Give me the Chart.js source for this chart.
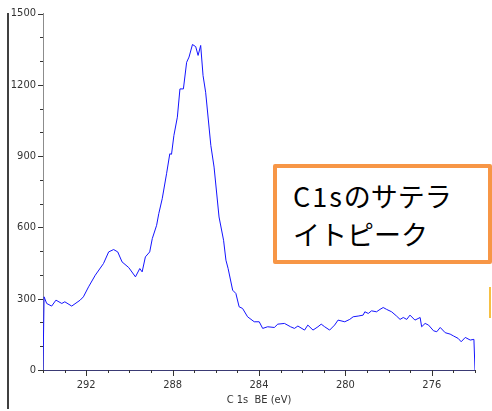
<!DOCTYPE html>
<html>
<head>
<meta charset="utf-8">
<script src="https://cdn.jsdelivr.net/npm/chart.js@4.4.1/dist/chart.umd.min.js"></script>
<style>
  html, body { margin: 0; padding: 0; background: #fff; }
  #wrap { position: relative; width: 492px; height: 411px; overflow: hidden; }
  #cropChart { position: absolute; left: 0; top: 0; }
  #leftRule { position: absolute; left: 7px; top: 13px; width: 2px; height: 396px; background: #404040; }
  #note {
    position: absolute; left: 273px; top: 164px; width: 211px; height: 92px;
    border: 4px solid #f79646; border-radius: 2px; background: #fff;
    font-family: "Noto Sans CJK JP", sans-serif; font-size: 27px; line-height: 38px; color: #000;
  }
  #note div { position: absolute; left: 16px; white-space: nowrap; }
  #note span { letter-spacing: 2px; }
  #sideMark { position: absolute; left: 489px; top: 287px; width: 2px; height: 31px; background: #f6c043; }
</style>
</head>
<body>
<div id="wrap">
  <canvas id="cropChart" width="492" height="411"></canvas>
  <div id="leftRule"></div>
  <div id="note"><div style="top:9px"><span>C1s</span>のサテラ</div><div style="top:47px">イトピーク</div></div>
  <div id="sideMark"></div>
</div>
<script>
// binding energy (eV) and counts
const energy = [294.0, 293.95, 293.83, 293.60, 293.40, 293.13, 292.99, 292.67, 292.28, 292.13,
  291.89, 291.58, 291.20, 290.96, 290.73, 290.54, 290.34, 290.03, 289.72, 289.52,
  289.41, 289.26, 289.06, 288.94, 288.74, 288.64, 288.48, 288.28, 288.13, 288.05,
  287.94, 287.78, 287.66, 287.50, 287.35, 287.24, 287.08, 286.93, 286.82, 286.70,
  286.59, 286.47, 286.23, 286.08, 285.85, 285.64, 285.53, 285.43, 285.22, 285.07,
  284.92, 284.76, 284.53, 284.22, 283.99, 283.83, 283.60, 283.29, 283.13, 282.82,
  282.54, 282.36, 282.20, 281.89, 281.74, 281.50, 281.27, 281.12, 280.96, 280.73,
  280.50, 280.34, 280.03, 279.80, 279.64, 279.41, 279.18, 279.10, 278.94, 278.79,
  278.56, 278.40, 278.25, 278.09, 277.86, 277.63, 277.47, 277.32, 277.16, 277.01,
  276.78, 276.54, 276.47, 276.31, 276.15, 275.92, 275.77, 275.61, 275.38, 275.15,
  274.99, 274.78, 274.64, 274.45, 274.22, 274.05, 274.0];
const counts = [0, 308, 280, 269, 294, 280, 287, 269, 294, 308,
  350, 399, 448, 497, 507, 497, 455, 431, 392, 427,
  413, 476, 497, 553, 609, 658, 721, 826, 910, 908,
  987, 1064, 1183, 1183, 1295, 1317, 1370, 1361, 1324, 1366,
  1239, 1169, 945, 854, 644, 546, 462, 427, 336, 322,
  266, 259, 224, 203, 203, 175, 182, 179, 193, 196,
  182, 175, 185, 168, 189, 168, 182, 193, 182, 168,
  189, 210, 203, 213, 224, 227, 231, 245, 238, 249,
  245, 255, 263, 255, 245, 227, 213, 221, 213, 231,
  210, 221, 182, 196, 189, 165, 161, 179, 157, 151,
  143, 133, 119, 137, 126, 129, 0];
const xLabels = [292, 288, 284, 280, 276];
const yLabels = [0, 300, 600, 900, 1200, 1500];

const tickFont = { family: '"Liberation Sans Narrow", "DejaVu Sans Condensed", sans-serif', size: 11 };
const tickInk = '#333';

// tick marks: long where a label sits, short elsewhere
const tickMarks = {
  id: 'tickMarks',
  afterDraw(chart) {
    const c = chart.ctx, area = chart.chartArea;
    const xs = chart.scales.x, ys = chart.scales.y;
    c.save();
    c.lineWidth = 1;
    c.strokeStyle = tickInk;
    xs.ticks.forEach(t => {
      const px = Math.round(xs.getPixelForValue(t.value)) + 0.5;
      const len = xLabels.includes(t.value) ? 6 : 3;
      c.beginPath(); c.moveTo(px, area.bottom); c.lineTo(px, area.bottom + len); c.stroke();
    });
    ys.ticks.forEach(t => {
      const py = Math.round(ys.getPixelForValue(t.value)) + 0.5;
      const len = yLabels.includes(t.value) ? 5 : 3;
      c.beginPath(); c.moveTo(area.left - len, py); c.lineTo(area.left, py); c.stroke();
    });
    c.restore();
  }
};

const ctx = document.getElementById('cropChart').getContext('2d');
const chart = new Chart(ctx, {
  type: 'line',
  data: {
    datasets: [{
      data: energy.map((e, i) => ({ x: e, y: counts[i] })),
      borderColor: '#1414ff',
      borderWidth: 1,
      pointRadius: 0,
      tension: 0,
      fill: false
    }]
  },
  options: {
    responsive: false,
    animation: false,
    layout: { padding: { top: 13, right: 17, left: 0, bottom: 0 } },
    plugins: { legend: { display: false }, tooltip: { enabled: false } },
    scales: {
      x: {
        type: 'linear',
        reverse: true,
        min: 274,
        max: 294,
        afterFit: s => { s.height = 41; },
        grid: { display: false, drawTicks: false },
        border: { display: true, color: '#3a3a74', width: 1 },
        ticks: {
          stepSize: 1,
          autoSkip: false,
          maxRotation: 0,
          padding: 9,
          color: tickInk,
          font: tickFont,
          callback: v => xLabels.includes(v) ? String(v) : ''
        },
        title: {
          display: true,
          text: 'C 1s  BE (eV)',
          color: tickInk,
          font: tickFont,
          padding: { top: 0, bottom: 4 }
        }
      },
      y: {
        min: 0,
        max: 1500,
        afterFit: s => { s.width = 43; },
        grid: { display: false, drawTicks: false },
        border: { display: true, color: '#8c8c8c', width: 1 },
        ticks: {
          stepSize: 100,
          autoSkip: false,
          padding: 7,
          color: tickInk,
          font: tickFont,
          callback: v => yLabels.includes(v) ? String(v) : ''
        }
      }
    }
  },
  plugins: [tickMarks]
});
</script>
</body>
</html>
